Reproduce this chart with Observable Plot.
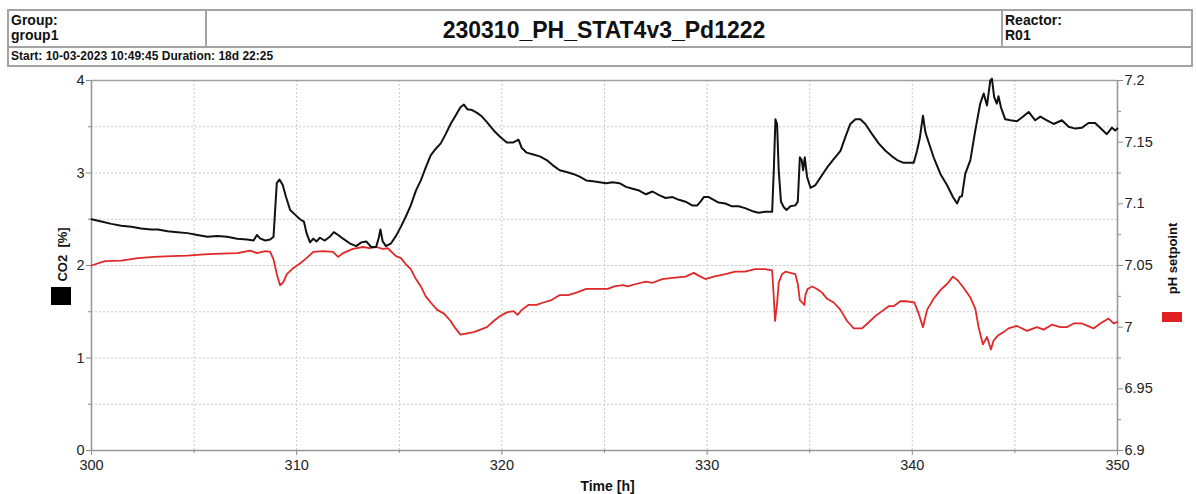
<!DOCTYPE html>
<html>
<head>
<meta charset="utf-8">
<script src="https://cdn.jsdelivr.net/npm/d3@7"></script>
<script src="https://cdn.jsdelivr.net/npm/@observablehq/plot@0.6"></script>
<style>
  html, body { margin: 0; padding: 0; background: #fff; }
  body { width: 1196px; height: 494px; position: relative; overflow: hidden;
         font-family: "Liberation Sans", Arial, sans-serif; color: #111; }
  .hline { position: absolute; background: #a3a3a3; height: 2px; }
  .vline { position: absolute; background: #a3a3a3; width: 2px; }
  .cell { position: absolute; font-weight: bold; font-size: 14px; line-height: 15px; }
  #chart { position: absolute; left: 0; top: 70px; }
  .swatch { position: absolute; }
</style>
</head>
<body>
<!-- run header -->
<div class="hline" style="left:7px; top:9px; width:1186px;"></div>
<div class="hline" style="left:7px; top:46px; width:1186px;"></div>
<div class="hline" style="left:7px; top:65px; width:1186px;"></div>
<div class="vline" style="left:7px; top:9px; height:58px;"></div>
<div class="vline" style="left:1191px; top:9px; height:58px;"></div>
<div class="vline" style="left:205px; top:9px; height:38px;"></div>
<div class="vline" style="left:1001px; top:9px; height:38px;"></div>
<div class="cell" style="left:11px; top:13px;">Group:<br>group1</div>
<div class="cell" style="left:207px; top:18px; width:794px; text-align:center; font-size:23px; line-height:24px;">230310_PH_STAT4v3_Pd1222</div>
<div class="cell" style="left:1005px; top:13px;">Reactor:<br>R01</div>
<div class="cell" style="left:11px; top:49px; font-size:12px; line-height:14px;">Start: 10-03-2023 10:49:45 Duration: 18d 22:25</div>

<div id="chart"></div>
<div class="swatch" style="left:51px; top:287px; width:20px; height:18px; background:#000;"></div>
<div class="swatch" style="left:1162px; top:312px; width:20px; height:10px; background:#e02020;"></div>

<script>
// CO2 in the off-gas [%], sampled along the run time [h]
const co2Hours = [
  300, 300.48, 300.97, 301.45, 301.94, 302.42, 302.9, 303.23, 303.71, 304.19,
  304.68, 305.16, 305.65, 306.13, 306.61, 307.1, 307.58, 307.9, 308.06, 308.23,
  308.47, 308.71, 308.87, 308.95, 309.03, 309.16, 309.32, 309.48, 309.68, 309.92,
  310.16, 310.35, 310.48, 310.65, 310.81, 310.97, 311.13, 311.37, 311.61, 311.81,
  312.02, 312.26, 312.58, 312.9, 313.15, 313.39, 313.63, 313.87, 314.0, 314.08,
  314.19, 314.35, 314.6, 314.84, 315.08, 315.32, 315.56, 315.81, 316.05, 316.29,
  316.53, 316.77, 317.02, 317.26, 317.5, 317.74, 317.98, 318.15, 318.31, 318.55,
  318.79, 319.03, 319.27, 319.6, 319.92, 320.24, 320.56, 320.81, 320.97, 321.21,
  321.53, 321.85, 322.18, 322.5, 322.82, 323.15, 323.47, 323.79, 324.11, 324.44,
  324.76, 325.08, 325.4, 325.73, 326.05, 326.37, 326.69, 327.02, 327.34, 327.66,
  327.98, 328.31, 328.63, 328.95, 329.27, 329.52, 329.68, 329.84, 330.08, 330.32,
  330.56, 330.89, 331.21, 331.53, 331.85, 332.18, 332.5, 332.82, 333.17, 333.25,
  333.33, 333.41, 333.49, 333.6, 333.74, 333.87, 334.06, 334.3, 334.42, 334.52,
  334.61, 334.68, 334.76, 334.87, 335.04, 335.28, 335.52, 335.85, 336.17, 336.5,
  336.74, 336.98, 337.23, 337.47, 337.71, 338.04, 338.36, 338.69, 339.01, 339.26,
  339.58, 340.07, 340.23, 340.36, 340.52, 340.64, 340.8, 341.04, 341.37, 341.69,
  341.98, 342.18, 342.31, 342.42, 342.58, 342.83, 343.07, 343.31, 343.48, 343.64,
  343.8, 343.88, 343.99, 344.12, 344.2, 344.32, 344.53, 344.78, 345.1, 345.34,
  345.67, 345.99, 346.24, 346.56, 346.89, 347.29, 347.62, 347.94, 348.27, 348.59,
  348.91, 349.24, 349.48, 349.73, 349.89, 350
];
const co2Percent = [
  2.50, 2.475, 2.45, 2.43, 2.42, 2.40, 2.39, 2.39, 2.37, 2.36,
  2.35, 2.33, 2.31, 2.32, 2.31, 2.29, 2.28, 2.27, 2.33, 2.29,
  2.27, 2.28, 2.31, 2.60, 2.89, 2.93, 2.87, 2.74, 2.60, 2.55,
  2.50, 2.475, 2.35, 2.25, 2.29, 2.26, 2.30, 2.27, 2.31, 2.36,
  2.33, 2.29, 2.24, 2.21, 2.25, 2.26, 2.20, 2.20, 2.30, 2.39,
  2.26, 2.21, 2.24, 2.32, 2.42, 2.53, 2.65, 2.81, 2.92, 3.06,
  3.19, 3.26, 3.32, 3.42, 3.53, 3.62, 3.71, 3.74, 3.69, 3.68,
  3.65, 3.61, 3.55, 3.46, 3.39, 3.33, 3.33, 3.36, 3.27, 3.22,
  3.20, 3.18, 3.14, 3.08, 3.03, 3.01, 2.99, 2.96, 2.92, 2.91,
  2.90, 2.89, 2.90, 2.89, 2.85, 2.83, 2.81, 2.77, 2.80, 2.76,
  2.73, 2.74, 2.71, 2.69, 2.65, 2.65, 2.69, 2.74, 2.74, 2.71,
  2.68, 2.67, 2.64, 2.64, 2.62, 2.59, 2.57, 2.58, 2.58, 3.03,
  3.58, 3.53, 3.03, 2.69, 2.63, 2.60, 2.64, 2.65, 2.69, 3.17,
  3.14, 3.03, 3.17, 2.96, 2.84, 2.87, 2.95, 3.06, 3.15, 3.24,
  3.39, 3.53, 3.58, 3.58, 3.53, 3.42, 3.32, 3.24, 3.18, 3.14,
  3.11, 3.11, 3.24, 3.37, 3.62, 3.44, 3.33, 3.17, 2.99, 2.87,
  2.74, 2.67, 2.74, 2.75, 2.99, 3.14, 3.46, 3.75, 3.86, 3.73,
  4.00, 4.02, 3.82, 3.75, 3.83, 3.71, 3.58, 3.57, 3.56, 3.60,
  3.66, 3.57, 3.61, 3.57, 3.53, 3.57, 3.50, 3.48, 3.49, 3.54,
  3.54, 3.47, 3.42, 3.49, 3.46, 3.48
];

// pH setpoint along the run time [h]
const phHours = [
  300, 300.65, 301.45, 302.26, 303.06, 303.87, 304.68, 305.48, 306.29, 307.1,
  307.74, 308.06, 308.47, 308.71, 308.87, 309.03, 309.19, 309.35, 309.52, 309.84,
  310.16, 310.48, 310.81, 311.29, 311.77, 312.02, 312.26, 312.74, 313.23, 313.55,
  313.87, 314.19, 314.44, 314.84, 315.08, 315.32, 315.56, 315.81, 316.05, 316.29,
  316.53, 316.85, 317.18, 317.5, 317.74, 317.98, 318.31, 318.63, 318.95, 319.27,
  319.6, 319.92, 320.24, 320.56, 320.76, 320.97, 321.29, 321.69, 322.02, 322.42,
  322.82, 323.23, 323.63, 324.11, 324.76, 325.16, 325.48, 325.89, 326.13, 326.53,
  327.02, 327.34, 327.82, 328.31, 328.95, 329.35, 329.68, 329.92, 330.32, 330.89,
  331.37, 331.85, 332.34, 332.82, 333.17, 333.25, 333.31, 333.41, 333.49, 333.65,
  333.82, 334.06, 334.3, 334.42, 334.52, 334.63, 334.74, 334.79, 334.9, 335.12,
  335.36, 335.6, 335.85, 336.17, 336.5, 336.82, 337.15, 337.55, 337.88, 338.2,
  338.53, 338.85, 339.09, 339.42, 339.74, 340.1, 340.31, 340.52, 340.72, 341.04,
  341.37, 341.69, 341.98, 342.21, 342.5, 342.83, 343.07, 343.23, 343.44, 343.64,
  343.83, 343.96, 344.16, 344.45, 344.69, 345.1, 345.59, 346.07, 346.4, 346.8,
  347.21, 347.53, 347.86, 348.27, 348.83, 349.16, 349.56, 349.81, 350
];
const phValues = [
  7.050, 7.0535, 7.054, 7.056, 7.057, 7.0576, 7.058, 7.059, 7.0597, 7.060,
  7.062, 7.060, 7.0616, 7.061, 7.055, 7.043, 7.034, 7.0365, 7.043, 7.048,
  7.0516, 7.056, 7.061, 7.0616, 7.061, 7.057, 7.060, 7.0635, 7.065, 7.064,
  7.065, 7.0635, 7.064, 7.0576, 7.056, 7.051, 7.047, 7.039, 7.033, 7.025,
  7.020, 7.014, 7.011, 7.005, 6.999, 6.994, 6.995, 6.996, 6.998, 7.000,
  7.005, 7.009, 7.012, 7.013, 7.010, 7.014, 7.018, 7.018, 7.020, 7.022,
  7.026, 7.026, 7.028, 7.031, 7.031, 7.031, 7.033, 7.034, 7.033, 7.035,
  7.037, 7.036, 7.039, 7.040, 7.041, 7.044, 7.041, 7.039, 7.041, 7.043,
  7.045, 7.045, 7.047, 7.047, 7.046, 7.024, 7.005, 7.019, 7.036, 7.043,
  7.045, 7.044, 7.043, 7.035, 7.022, 7.020, 7.018, 7.026, 7.031, 7.033,
  7.031, 7.028, 7.023, 7.020, 7.014, 7.005, 6.999, 6.999, 7.004, 7.009,
  7.013, 7.017, 7.017, 7.021, 7.021, 7.020, 7.011, 7.000, 7.014, 7.023,
  7.030, 7.035, 7.041, 7.038, 7.032, 7.024, 7.015, 7.000, 6.986, 6.992,
  6.982, 6.989, 6.993, 6.996, 6.999, 7.001, 6.997, 7.000, 6.998, 7.002,
  7.000, 7.000, 7.003, 7.003, 6.999, 7.003, 7.007, 7.003, 7.004
];

// axis ticks
const hourTicks = [300, 310, 320, 330, 340, 350];
const hourMinorTicks = [305, 315, 325, 335, 345];
const co2Ticks = [0, 1, 2, 3, 4];
const co2MinorTicks = [0.5, 1.5, 2.5, 3.5];
const phTicks = [6.9, 6.95, 7, 7.05, 7.1, 7.15, 7.2];
const phMinorTicks = [6.925, 6.975, 7.025, 7.075, 7.125, 7.175];

// the pH axis (6.9 – 7.2) shares the plot height with CO2 (0 – 4 %)
const phMin = 6.9, phMax = 7.2, co2Max = 4;
const phToY = p => (p - phMin) / (phMax - phMin) * co2Max;
const yToPh = y => phMin + y / co2Max * (phMax - phMin);

const co2Series = co2Hours.map((t, i) => ({t, v: co2Percent[i]}));
const phSeries = phHours.map((t, i) => ({t, v: phToY(phValues[i])}));

const gridStyle = {stroke: "#c8c8c8", strokeOpacity: 1, strokeDasharray: "2,2", strokeWidth: 1};
const frameStyle = {stroke: "#999", strokeWidth: 1.6};
const tickText = {fill: "#222", stroke: "#8a8a8a", fontSize: 14.5};

const chart = Plot.plot({
  width: 1196,
  height: 424,
  marginTop: 10,
  marginLeft: 91,
  marginRight: 79,
  marginBottom: 44,
  style: {fontFamily: "'Liberation Sans', Arial, sans-serif", fontSize: "14.5px", background: "transparent", overflow: "visible"},
  x: {domain: [300, 350]},
  y: {domain: [0, 4]},
  marks: [
    Plot.gridX(d3.range(300, 351, 5), gridStyle),
    Plot.gridY(d3.range(0, 4.01, 0.5), gridStyle),
    Plot.ruleY([4], {stroke: "#a0a0a0", strokeWidth: 1.6}),
    Plot.ruleX([300], frameStyle),
    Plot.ruleX([350], frameStyle),
    Plot.ruleY([0], frameStyle),

    Plot.axisY(co2Ticks, {anchor: "left", tickSize: 5, tickPadding: 2, label: null, tickFormat: d3.format("d"), ...tickText}),
    Plot.axisY(co2MinorTicks, {anchor: "left", tickSize: 3, tickFormat: () => "", label: null, stroke: "#8a8a8a"}),
    Plot.axisY(phTicks.map(phToY), {anchor: "right", tickSize: 5, tickPadding: 2, label: null,
      tickFormat: d => d3.format("~g")(+yToPh(d).toFixed(3)), ...tickText}),
    Plot.axisY(phMinorTicks.map(phToY), {anchor: "right", tickSize: 3, tickFormat: () => "", label: null, stroke: "#8a8a8a"}),
    Plot.axisX(hourTicks, {anchor: "bottom", tickSize: 5, tickPadding: 4, label: null, ...tickText}),
    Plot.axisX(hourMinorTicks, {anchor: "bottom", tickSize: 3, tickFormat: () => "", label: null, stroke: "#8a8a8a"}),

    // rotated axis titles, centred on their anchor point
    Plot.text(["CO2  [%]"], {frameAnchor: "left", textAnchor: "middle", dx: -29, dy: -11, rotate: -90, fontWeight: "bold", fontSize: 13, fill: "#111"}),
    Plot.text(["pH setpoint"], {frameAnchor: "right", textAnchor: "middle", dx: 55, dy: -7, rotate: -90, fontWeight: "bold", fontSize: 13, fill: "#111"}),
    Plot.text(["Time [h]"], {frameAnchor: "bottom", dx: 3, dy: 40, fontWeight: "bold", fontSize: 14, fill: "#111"}),

    Plot.line(phSeries, {x: "t", y: "v", stroke: "#e02828", strokeWidth: 1.8, curve: "linear"}),
    Plot.line(co2Series, {x: "t", y: "v", stroke: "#111", strokeWidth: 2, curve: "linear"})
  ]
});

document.getElementById("chart").appendChild(chart);
</script>
</body>
</html>
